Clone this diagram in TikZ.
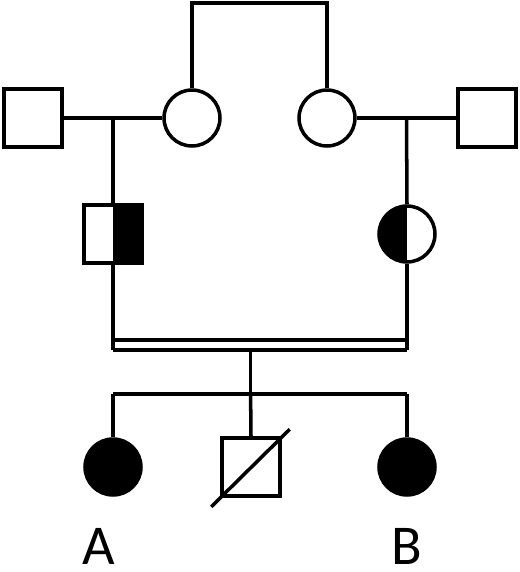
\documentclass[tikz,border=0pt]{standalone}
\usepackage{fontspec}
\setsansfont{Carlito}
\usepackage{tikz}
\usetikzlibrary{positioning,calc}

\begin{document}
\begin{tikzpicture}[
  x=0.02cm, y=-0.02cm,
  line width=2pt,
  male/.style={draw, line width=2pt, minimum size=1.16cm, inner sep=0pt, fill=white},
  female/.style={draw, circle, line width=2pt, minimum size=1.12cm, inner sep=0pt, fill=white},
  carrR/.style={path picture={\fill[black] (path picture bounding box.north) rectangle (path picture bounding box.south east);}},
  carrL/.style={path picture={\fill[black] (path picture bounding box.north west) rectangle (path picture bounding box.south);}},
  aff/.style={fill=black},
  lbl/.style={font=\sffamily\fontsize{32}{34}\selectfont, inner sep=0pt}
]
\useasboundingbox (0,0) rectangle (520,572);
% Generation I
\node[male]   (gl) at (33,118)  {};
\node[female] (ml) at (192,118) {};
\node[female] (mr) at (327,118) {};
\node[male]   (gr) at (487,118) {};
% Generation II (carriers)
\node[male,carrR]   (cl) at (113,234) {};
\node[female,carrL] (cr) at (407,234) {};
% Generation III
\node[female,aff] (ka) at (113,467) {};
\node[male]       (kd) at (251,467) {};
\node[female,aff] (kb) at (407,467) {};
\node[lbl] (la) at (99,546)  {A};
\node[lbl] (lb) at (407,546) {B};

% sisters
\coordinate (tl) at (192,3);
\coordinate (tr) at (327,3);
\draw (ml.north) -- (tl) -- (tr) -- (mr.north);

% marriages of generation I
\draw (gl) -- (ml);
\draw (mr) -- (gr);
\coordinate (dl) at ($(gl.east)!0.5!(ml.west)$);
\coordinate (dr) at ($(mr.east)!0.5!(gr.west)$);
\draw (dl) -- (cl.north);
\draw (dr) -- (cr.north);

% consanguineous union (double line)
\coordinate (ul) at (113,340);
\coordinate (ur) at (407,340);
\coordinate (vl) at (113,350);
\coordinate (vr) at (407,350);
\draw (cl.south) -- (vl);
\draw (cr.south) -- (vr);
\draw (ul) -- (ur);
\draw (vl) -- (vr);

% sibship
\coordinate (vm) at ($(vl)!0.468!(vr)$);
\coordinate (sl) at (113,394);
\coordinate (sr) at (407,394);
\draw (vm) -- (vm |- sl);
\draw (sl) -- (sr);
\draw (sl) -- (ka.north);
\draw (sr) -- (kb.north);
\draw (vm |- sl) -- (kd.north);

% deceased
\draw ($(kd.south west)+(-9,9)$) -- ($(kd.north east)+(8,-7)$);
\end{tikzpicture}
\end{document}
